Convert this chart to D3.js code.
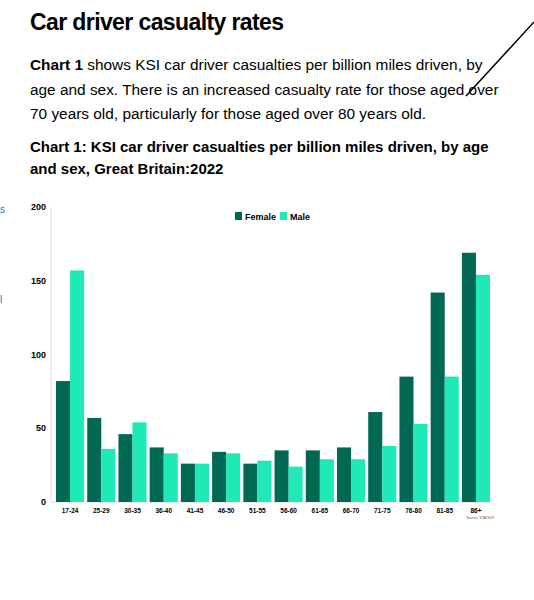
<!DOCTYPE html>
<html><head><meta charset="utf-8">
<script src="https://cdn.jsdelivr.net/npm/d3@7"></script>
<style>
body{margin:0;background:#fff;font-family:Arial,"Liberation Sans",sans-serif;color:#0b0c0c}
svg{display:block}
</style></head>
<body><svg id="c" width="534" height="600"></svg>
<script>
const ages = ['17-24','25-29','30-35','36-40','41-45','46-50','51-55','56-60','61-65','66-70','71-75','76-80','81-85','86+'];
const female = [82,57,46,37,26,34,26,35,35,37,61,85,142,169];
const male = [157,36,54,33,26,33,28,24,29,29,38,53,85,154];
const yTicks = [0,50,100,150,200];
const series = ['Female','Male'];
const colors = {Female:'#006853', Male:'#1fe9b6'};

const svg = d3.select('#c');
const font = 'Arial,"Liberation Sans",sans-serif';

svg.append('text').attr('x',30).attr('y',30).attr('font-size',23).attr('font-weight','bold')
  .attr('font-family',font).attr('letter-spacing',-0.6).text('Car driver casualty rates');

const para = [
  [['Chart 1',true],[' shows KSI car driver casualties per billion miles driven, by',false]],
  [['age and sex. There is an increased casualty rate for those aged over',false]],
  [['70 years old, particularly for those aged over 80 years old.',false]]
];
para.forEach((line,i)=>{
  const t = svg.append('text').attr('x',30).attr('y',70+i*24.5).attr('font-size',15.4).attr('font-family',font);
  line.forEach(([s,b])=>t.append('tspan').attr('font-weight',b?'bold':'normal').text(s));
});
svg.append('line').attr('x1',534).attr('y1',22).attr('x2',466).attr('y2',96)
  .attr('stroke','#000').attr('stroke-width',1.5);

['Chart 1: KSI car driver casualties per billion miles driven, by age','and sex, Great Britain:2022']
  .forEach((s,i)=>svg.append('text').attr('x',30).attr('y',152+i*22).attr('font-size',15)
    .attr('font-weight','bold').attr('font-family',font).text(s));

svg.append('text').attr('x',0).attr('y',213).attr('font-size',10).attr('fill','#1d70b8').text('s');
svg.append('text').attr('x',0).attr('y',303).attr('font-size',10).attr('fill','#1d70b8').text('l');

const x0 = d3.scaleBand().domain(ages).range([56,490]).paddingInner(0.1).paddingOuter(0);
const x1 = d3.scaleBand().domain(series).range([0,x0.bandwidth()]);
const y = d3.scaleLinear().domain([0,200]).range([502,207]);

const g = svg.append('g');
g.append('line').attr('x1',51).attr('x2',51).attr('y1',207).attr('y2',502).attr('stroke','#ddd');
g.append('line').attr('x1',51).attr('x2',493).attr('y1',502).attr('y2',502).attr('stroke','#ddd');

yTicks.forEach(v=>g.append('text').attr('x',46).attr('y',y(v)+3).attr('text-anchor','end')
  .attr('font-size',9).attr('font-weight','bold').attr('font-family',font).text(v));

const grp = g.selectAll('.grp').data(ages).enter().append('g').attr('transform',d=>`translate(${x0(d)},0)`);
grp.each(function(d,i){
  const vals = {Female:female[i], Male:male[i]};
  series.forEach(s=>d3.select(this).append('rect').attr('x',x1(s)).attr('width',x1.bandwidth())
    .attr('y',y(vals[s])).attr('height',y(0)-y(vals[s])).attr('fill',colors[s]));
});
ages.forEach(a=>g.append('text').attr('x',x0(a)+x0.bandwidth()/2).attr('y',513).attr('text-anchor','middle')
  .attr('font-size',6.5).attr('font-weight','bold').attr('font-family',font).text(a));
g.append('text').attr('x',494).attr('y',519).attr('text-anchor','end').attr('font-size',3.5)
  .attr('fill','#555').text('Source: STATS19');

const lg = g.append('g').attr('transform','translate(235,212)');
let lx = 0;
series.forEach(s=>{
  lg.append('rect').attr('x',lx).attr('y',0).attr('width',7).attr('height',8).attr('fill',colors[s]);
  const t = lg.append('text').attr('x',lx+10).attr('y',8).attr('font-size',9).attr('font-weight','bold')
    .attr('font-family',font).text(s);
  lx += 10 + t.node().getComputedTextLength() + 4;
});
</script></body></html>
